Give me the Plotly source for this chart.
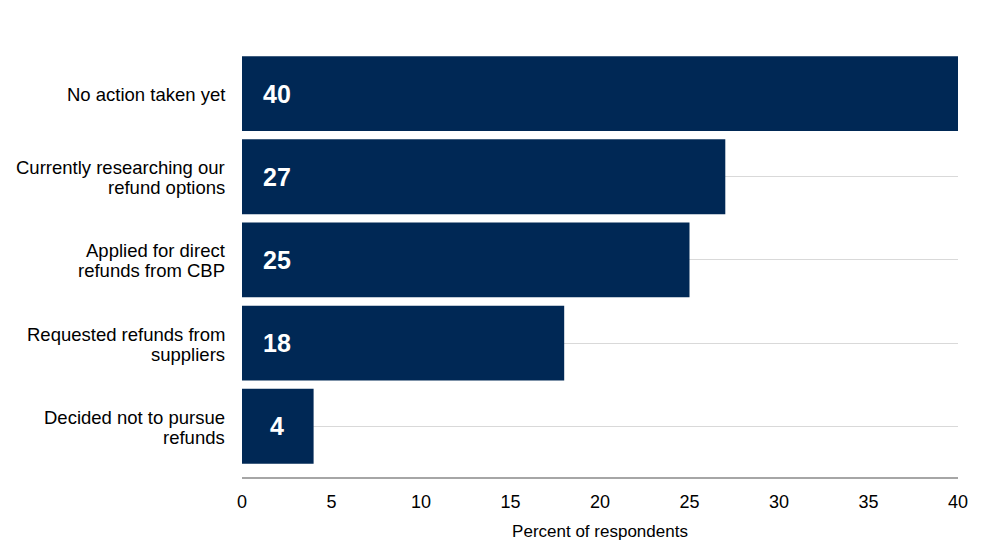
import plotly.graph_objects as go

categories = ["No action taken yet",
              "Currently researching our<br>refund options",
              "Applied for direct<br>refunds from CBP",
              "Requested refunds from<br>suppliers",
              "Decided not to pursue<br>refunds"]
values = [40, 27, 25, 18, 4]
x_ticks = [0, 5, 10, 15, 20, 25, 30, 35, 40]

BAR = "#002855"
FONT = "Liberation Sans, Arial, sans-serif"
LINE_GAP = 20

fig = go.Figure()
fig.add_trace(go.Bar(
    x=values, y=categories, orientation="h",
    marker=dict(color=BAR, line=dict(width=0)),
    hoverinfo="skip",
))

for c, v in zip(categories, values):
    fig.add_annotation(x=0, y=c, text=f"<b>{v}</b>", showarrow=False,
                       xanchor="center", xshift=35,
                       font=dict(family=FONT, size=25, color="white"))
    lines = c.split("<br>")
    n = len(lines)
    for i, ln in enumerate(lines):
        off = ((n - 1) / 2 - i) * LINE_GAP
        fig.add_annotation(x=0, xref="paper", y=c, text=ln, showarrow=False,
                           xanchor="right", yanchor="middle", xshift=-15,
                           yshift=off - 1,
                           font=dict(family=FONT, size=18.5, color="#000000"))

fig.update_layout(
    width=991, height=557,
    margin=dict(l=242, r=33, t=52, b=80),
    plot_bgcolor="white", paper_bgcolor="white",
    bargap=0.1, showlegend=False,
    font=dict(family=FONT, size=18, color="#000000"),
)
fig.update_xaxes(range=[0, 40], tickvals=x_ticks, showgrid=False, zeroline=False,
                 showline=True, linecolor="#a6a6a6", linewidth=2,
                 ticks="", tickfont=dict(size=18), ticklabelstandoff=7,
                 title=dict(text="Percent of respondents", font=dict(size=17), standoff=15))
fig.update_yaxes(type="category", range=[4.61, -0.5], showgrid=True, gridcolor="#d9d9d9",
                 gridwidth=1, zeroline=False, showline=False, ticks="",
                 showticklabels=False)

fig.write_html("out.html")
